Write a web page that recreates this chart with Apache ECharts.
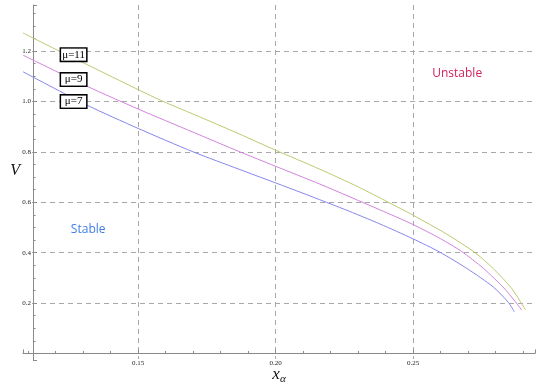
<!DOCTYPE html>
<html>
<head>
<meta charset="utf-8">
<script src="https://cdn.jsdelivr.net/npm/echarts@6/dist/echarts.min.js"></script>
<style>html,body{margin:0;padding:0;background:#fff;}#c{width:546px;height:386px;}</style>
</head>
<body>
<div id="c"></div>
<script>
// x_alpha and V values
const xGreen = [0.1081, 0.1213, 0.1313, 0.1500, 0.1591, 0.1700, 0.1870, 0.1997, 0.2161, 0.2300, 0.2410, 0.2499, 0.2620, 0.2725, 0.2791, 0.2858, 0.2909];
const vGreen = [1.272, 1.200, 1.147, 1.047, 1.000, 0.950, 0.870, 0.808, 0.731, 0.661, 0.600, 0.549, 0.475, 0.400, 0.337, 0.258, 0.172];
const xMagenta = [0.1081, 0.1313, 0.1500, 0.1700, 0.1870, 0.1997, 0.2161, 0.2379, 0.2499, 0.2600, 0.2676, 0.2755, 0.2834, 0.2895];
const vMagenta = [1.184, 1.061, 0.970, 0.878, 0.800, 0.744, 0.672, 0.570, 0.512, 0.455, 0.405, 0.338, 0.255, 0.172];
const xBlue = [0.1081, 0.1313, 0.1500, 0.1700, 0.1867, 0.2070, 0.2250, 0.2379, 0.2499, 0.2597, 0.2700, 0.2791, 0.2846, 0.2868];
const vBlue = [1.118, 0.986, 0.893, 0.800, 0.731, 0.648, 0.572, 0.514, 0.455, 0.402, 0.334, 0.264, 0.203, 0.165];
const seriesNames = ['μ=11', 'μ=9', 'μ=7'];
const seriesColors = ['#c0c870', '#d283de', '#8686ef'];
// label anchors (data coords)
const muLabelX = 0.1265;
const muLabelV = [1.186, 1.087, 0.9996];
const regionLabels = [
  {text: 'Unstable', x: 0.2660, v: 1.109, color: '#d3225c'},
  {text: 'Stable', x: 0.1318, v: 0.490, color: '#3f7de8'}
];
const xMin = 0.1081, xMax = 0.2943, vMin = -0.026, vMax = 1.383;

const zip = (xs, vs) => xs.map((x, i) => [x, vs[i]]);
const serif = 'Liberation Serif';
const isMult = (v, s) => Math.abs(Math.round(v / s) * s - v) < 1e-9;

const chart = echarts.init(document.getElementById('c'), null, {renderer: 'canvas'});
const dataSets = [zip(xGreen, vGreen), zip(xMagenta, vMagenta), zip(xBlue, vBlue)];

const series = dataSets.map((d, i) => {
  const mp = [{
    coord: [muLabelX, muLabelV[i]],
    label: {
      show: true, position: 'inside', formatter: seriesNames[i],
      fontFamily: serif, fontSize: 11, color: '#000',
      backgroundColor: '#fff', borderColor: '#000', borderWidth: 1.5,
      width: 23, align: 'center', padding: [1, 1, 0, 1], lineHeight: 11
    }
  }];
  if (i === 2) {
    regionLabels.forEach(r => mp.push({
      coord: [r.x, r.v],
      label: {show: true, position: 'inside', formatter: r.text, color: r.color,
        fontFamily: 'Open Sans', fontSize: 12}
    }));
  }
  return {
    name: seriesNames[i], type: 'line', data: d, smooth: 0.25, showSymbol: false,
    lineStyle: {color: seriesColors[i], width: 1}, itemStyle: {color: seriesColors[i]},
    clip: false, z: 3, silent: true,
    markPoint: {symbol: 'circle', symbolSize: 1, itemStyle: {color: 'rgba(0,0,0,0)'}, data: mp, silent: true, z: 10}
  };
});

const axisColor = '#8a8a8a';
chart.setOption({
  animation: false,
  backgroundColor: '#fff',
  grid: {left: 23, right: 11, top: 5, bottom: 26, outerBoundsMode: 'none', containLabel: false},
  xAxis: {
    type: 'value', min: xMin, max: xMax, minInterval: 0.05, maxInterval: 0.05,
    axisLine: {onZero: true, lineStyle: {color: axisColor, width: 1}},
    axisTick: {inside: true, length: 4, lineStyle: {color: axisColor}},
    minorTick: {show: true, splitNumber: 5, length: 2.5, lineStyle: {color: axisColor}},
    axisLabel: {showMinLabel: false, showMaxLabel: false, margin: -1, lineHeight: 8, color: '#222', fontFamily: serif, fontSize: 7,
      backgroundColor: '#fff', formatter: v => isMult(v, 0.05) ? v.toFixed(2) : ''},
    splitLine: {show: true, showMinLine: false, showMaxLine: false, lineStyle: {color: '#a8a8a8', type: [5, 4], width: 1}},
    name: '{x|x}{a|α}', nameLocation: 'middle', nameGap: 5, nameMoveOverlap: false,
    nameTextStyle: {rich: {
      x: {fontFamily: serif, fontStyle: 'italic', fontSize: 17, lineHeight: 20, color: '#111'},
      a: {fontFamily: serif, fontStyle: 'italic', fontSize: 11, lineHeight: 12, verticalAlign: 'bottom', color: '#111'}
    }}
  },
  yAxis: {
    type: 'value', min: vMin, max: vMax, minInterval: 0.2, maxInterval: 0.2, offset: -10,
    axisLine: {show: true, lineStyle: {color: axisColor, width: 1}},
    axisTick: {show: true, inside: true, length: 4, lineStyle: {color: axisColor}},
    minorTick: {show: true, splitNumber: 4, length: 2.5, lineStyle: {color: axisColor}},
    axisLabel: {showMinLabel: false, showMaxLabel: false, margin: 2, color: '#222', fontFamily: serif, fontSize: 7,
      backgroundColor: '#fff', formatter: v => (v > 0.1 && v < 1.3 && isMult(v, 0.2)) ? v.toFixed(1) : ''},
    splitLine: {show: true, showMinLine: false, showMaxLine: false, lineStyle: {color: '#a8a8a8', type: [5, 4], width: 1}},
    name: 'V', nameLocation: 'middle', nameRotate: 0, nameGap: 13, nameMoveOverlap: false,
    nameTextStyle: {fontFamily: serif, fontStyle: 'italic', fontSize: 16, color: '#111', verticalAlign: 'bottom', padding: [0, 0, 4, 0]}
  },
  series: series
});
</script>
</body>
</html>
